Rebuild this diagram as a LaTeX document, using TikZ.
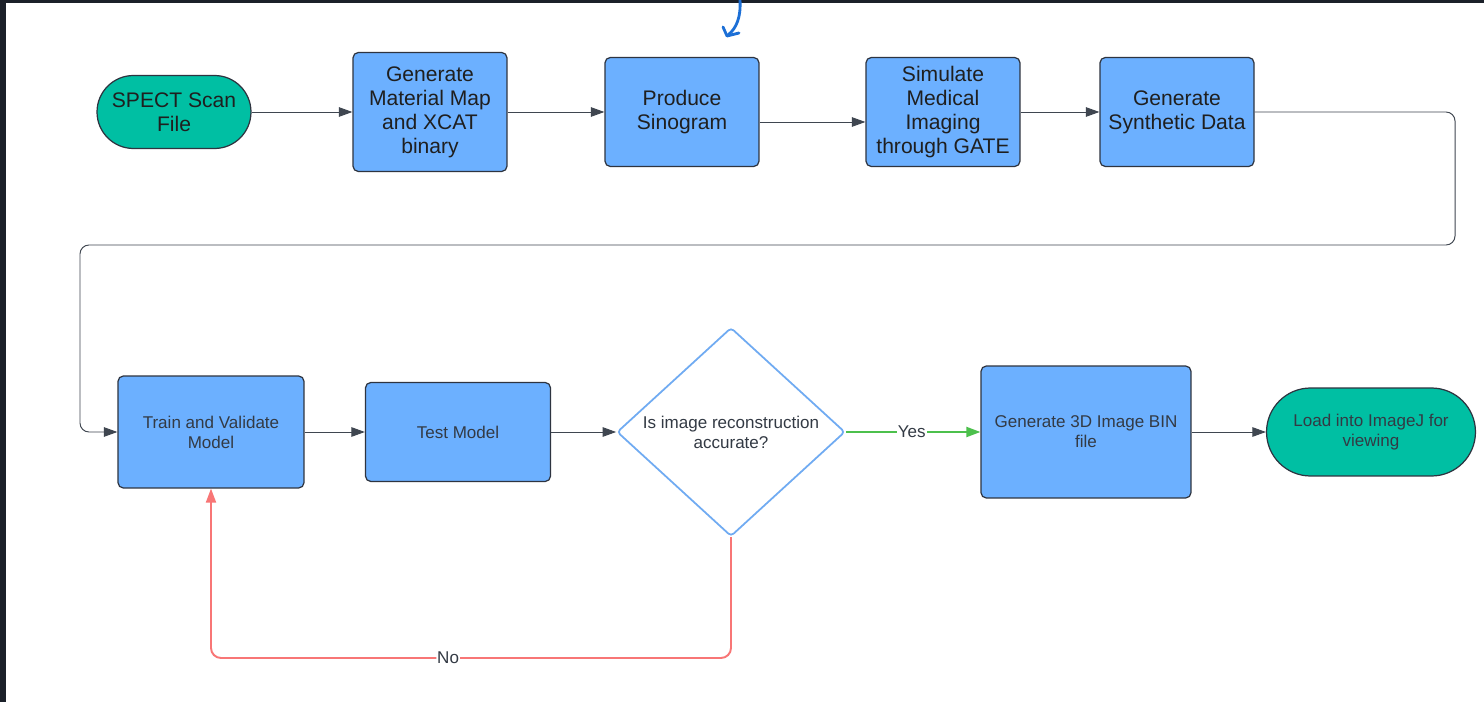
\documentclass[tikz,border=0pt]{standalone}
\usepackage{fontspec}
\setmainfont{Liberation Sans}
\usetikzlibrary{shapes.geometric, arrows.meta, positioning, calc}
\definecolor{BoxBlue}{HTML}{6CB0FF}
\definecolor{Teal}{HTML}{00BFA3}
\definecolor{EdgeDark}{HTML}{2E3440}
\definecolor{LineGray}{HTML}{3F4650}
\definecolor{DiaBlue}{HTML}{70ABF2}
\definecolor{YesGreen}{HTML}{4CC04C}
\definecolor{NoRed}{HTML}{F87676}
\definecolor{FrameDark}{HTML}{1B2029}
\definecolor{PenBlue}{HTML}{1C6FD6}
\definecolor{TextSlate}{HTML}{333A44}
\tikzset{
  topfont/.style={font=\fontsize{12}{13.6}\selectfont, text=black!88},
  lowfont/.style={font=\fontsize{9.7}{11.4}\selectfont, text=TextSlate},
  stepbox/.style={rectangle, rounded corners=3pt, draw=EdgeDark, line width=0.7pt,
                  fill=BoxBlue, align=center, inner sep=2pt},
  terminal/.style={rectangle, draw=EdgeDark, line width=0.7pt, fill=Teal,
                   align=center, inner sep=2pt},
  decision/.style={diamond, draw=DiaBlue, line width=1pt, fill=white,
                   align=center, inner sep=0pt, rounded corners=2pt},
  conn/.style={-{Triangle[length=0.27cm,width=0.19cm]}, LineGray, line width=0.55pt},
  yesline/.style={-{Triangle[length=0.28cm,width=0.2cm]}, YesGreen, line width=1.1pt},
  noline/.style={-{Triangle[length=0.28cm,width=0.2cm]}, NoRed, line width=1.1pt,
                 rounded corners=0.2cm},
  lbl/.style={lowfont, fill=white, inner sep=0.5pt}
}
\begin{document}
\begin{tikzpicture}[x=0.02cm, y=-0.02cm]
    % Canvas and dark frame
    \fill[white] (0,0) rectangle (1484,702);
    \useasboundingbox (0,0) rectangle (1484,702);
    \fill[FrameDark] (0,0) rectangle (1484,3);
    \fill[FrameDark] (0,0) rectangle (6,702);

    % Pen mark above the sinogram step
    \draw[PenBlue, line width=1.6pt, line cap=round, line join=round]
        (740,0) .. controls (741,16) and (737,28) .. (728,35);
    \draw[PenBlue, line width=1.6pt, line cap=round, line join=round]
        (723,27) -- (727,36) -- (739,33);

    % Top row
    \node[terminal, topfont, minimum width=3.08cm, minimum height=1.46cm,
          rounded corners=0.73cm] (scan) at (174,112) {SPECT Scan\\File};
    \node[stepbox, topfont, minimum width=3.08cm, minimum height=2.38cm]
          (matmap) at (430,112) {Generate\\Material Map\\and XCAT\\binary};
    \node[stepbox, topfont, minimum width=3.08cm, minimum height=2.18cm]
          (sino) at (682,112) {Produce\\Sinogram};
    \node[stepbox, topfont, minimum width=3.08cm, minimum height=2.18cm]
          (gate) at (943,112) {Simulate\\Medical\\Imaging\\through GATE};
    \node[stepbox, topfont, minimum width=3.08cm, minimum height=2.18cm]
          (synth) at (1177,112) {Generate\\Synthetic Data};

    % Bottom row
    \node[stepbox, lowfont, minimum width=3.72cm, minimum height=2.24cm]
          (train) at (211,432) {Train and Validate\\Model};
    \node[stepbox, lowfont, minimum width=3.7cm, minimum height=1.98cm]
          (test) at (458,432) {Test Model};
    \node[decision, lowfont, minimum width=4.56cm, minimum height=4.06cm]
          (check) at (731,432) {Is image reconstruction\\accurate?};
    \node[stepbox, lowfont, minimum width=4.2cm, minimum height=2.64cm]
          (bin) at (1086,432) {Generate 3D Image BIN\\file};
    \node[terminal, lowfont, minimum width=4.18cm, minimum height=1.76cm,
          rounded corners=0.88cm] (imagej) at (1371,432) {Load into ImageJ for\\viewing};

    % Arrows
    \draw[conn] (scan.east) -- (matmap.west);
    \draw[conn] (matmap.east) -- (sino.west);
    \draw[conn] ([yshift=-0.2cm]sino.east) -- ([yshift=-0.2cm]gate.west);
    \draw[conn] (gate.east) -- (synth.west);
    \draw[conn, rounded corners=0.18cm] (synth.east) -| (1455,245) -| (80,432) -- (train.west);
    \draw[conn] (train.east) -- (test.west);
    \draw[conn] (test.east) -- (check.west);
    \draw[yesline] (check.east) -- node[lbl, pos=0.49] {Yes} (bin.west);
    \draw[conn] (bin.east) -- (imagej.west);
    \draw[noline] (check.south) -- (731,658) -| node[lbl, pos=0.272] {No} (train.south);
\end{tikzpicture}
\end{document}
